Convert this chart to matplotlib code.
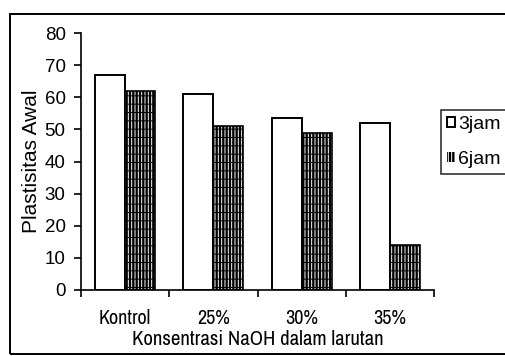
import matplotlib
matplotlib.use("Agg")
import matplotlib.pyplot as plt
from matplotlib.patches import Rectangle
import numpy as np

NARROW = ['Archivo Narrow', 'Roboto Condensed', 'DejaVu Sans']
REGULAR = ['Liberation Sans', 'DejaVu Sans']
plt.rcParams['font.family'] = REGULAR

categories = ["Kontrol", "25%", "30%", "35%"]
jam3 = [67, 61, 53.5, 52]
jam6 = [62, 51, 49, 14]
series_labels = ["3jam", "6jam"]
y_ticks = [0, 10, 20, 30, 40, 50, 60, 70, 80]

fig = plt.figure(figsize=(5.06, 3.56), dpi=100)
ax = fig.add_axes([0.160, 0.1854, 0.698, 0.7216])

centers = np.arange(len(categories)) + 0.5
bw = 0.34

b3 = ax.bar(centers - bw / 2, jam3, width=bw, facecolor='white',
            edgecolor='black', linewidth=1.4, label=series_labels[0], zorder=2)

plt.rcParams['hatch.linewidth'] = 0.7
b6 = ax.bar(centers + bw / 2, jam6, width=bw, facecolor='black',
            edgecolor='white', linewidth=0, hatch='|||||', zorder=2,
            label=series_labels[1])
# black bands across the stripes
ax.bar(centers + bw / 2, jam6, width=bw, facecolor='none',
       edgecolor='black', linewidth=0, hatch='--', zorder=3)
ax.bar(centers + bw / 2, jam6, width=bw, facecolor='none',
       edgecolor='black', linewidth=1.2, zorder=4)

ax.set_xlim(0, len(categories))
ax.set_ylim(0, 80)
ax.set_yticks(y_ticks)
ax.set_yticklabels([str(t) for t in y_ticks], fontsize=13.5, family=REGULAR)
ax.set_xticks(np.arange(len(categories) + 1))
ax.set_xticklabels([])
ax.set_xticks(centers, minor=True)
ax.set_xticklabels(categories, minor=True, fontsize=14.5, family=NARROW)
ax.tick_params(axis='x', which='major', direction='out', length=5, width=1.2)
ax.tick_params(axis='x', which='minor', length=0, pad=14)
ax.tick_params(axis='y', direction='out', length=5, width=1.2, pad=6)

for side in ('top', 'right'):
    ax.spines[side].set_visible(False)
for side in ('left', 'bottom'):
    ax.spines[side].set_linewidth(1.2)

ax.set_xlabel("Konsentrasi NaOH dalam larutan", fontsize=15, labelpad=1,
              family=NARROW)
ax.set_ylabel("Plastisitas Awal", fontsize=15, labelpad=3, family=REGULAR)

leg = fig.legend(handles=[b3, b6], labels=series_labels, loc='upper left',
                 bbox_to_anchor=(0.8715, 0.691), prop={'family': REGULAR, 'size': 14},
                 frameon=True, fancybox=False, edgecolor='black',
                 handlelength=0.42, handleheight=0.42, handletextpad=0.15,
                 labelspacing=0.9, borderpad=0.32, borderaxespad=0)
leg.get_frame().set_linewidth(1.2)

# chart area border
fig.patches.append(Rectangle((10 / 506, 1 - 354 / 356), 1.2, (354 - 14) / 356,
                             transform=fig.transFigure, fill=False,
                             edgecolor='black', linewidth=1.4))

fig.savefig("out.png", dpi=100)
